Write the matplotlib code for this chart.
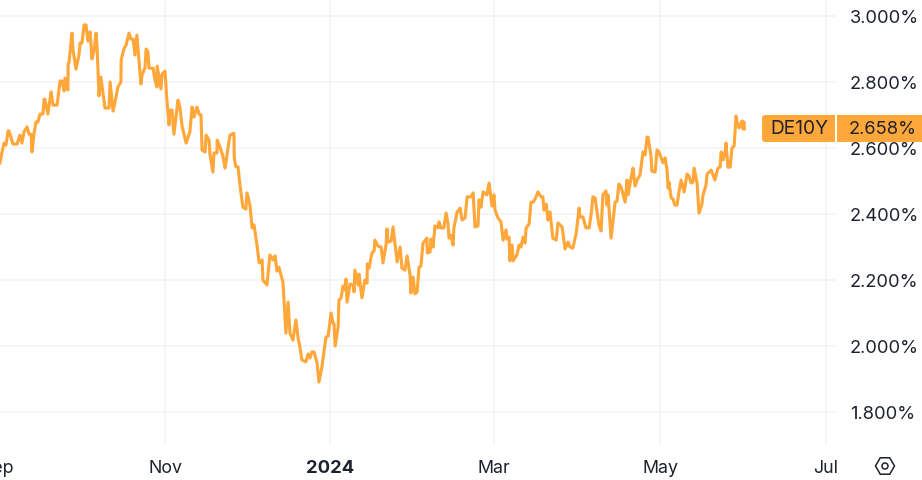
import matplotlib
matplotlib.use("Agg")
import matplotlib.pyplot as plt
from matplotlib.patches import FancyBboxPatch, Rectangle, RegularPolygon, Circle
from matplotlib.transforms import Affine2D

plt.rcParams['font.family'] = ['Inter', 'DejaVu Sans']

symbol = "DE10Y"
last_label = "2.658%"
# days since 1 Sep 2023
days = [0.0,0.7,1.5,2.2,3.0,3.3,4.8,6.3,7.4,8.1,8.9,10.0,10.7,11.5,11.8,12.6,13.3,14.0,14.8,15.9,16.3,16.6,17.7,18.9,19.6,21.1,22.2,22.9,23.7,24.0,
25.1,25.2,25.5,26.6,27.0,28.1,29.2,29.6,30.3,31.1,31.8,32.5,33.3,34.0,34.8,35.5,35.9,36.6,37.3,38.8,40.3,40.7,41.8,42.9,43.6,44.7,44.8,45.8,46.6,47.7,
48.4,49.2,49.9,50.6,52.1,52.5,53.6,54.0,54.7,55.1,56.6,57.3,58.0,58.1,59.5,59.9,61.0,61.7,62.5,62.8,63.6,64.3,65.8,66.5,67.3,68.8,70.2,71.0,71.7,72.8,
73.6,74.3,74.7,75.8,76.2,77.3,77.6,78.7,79.1,80.2,80.3,81.3,82.4,83.2,85.0,86.5,86.6,87.2,88.0,88.7,89.8,90.9,91.3,92.4,93.2,93.9,95.0,95.8,96.9,97.2,
98.7,99.8,100.9,101.7,102.4,103.1,104.6,105.7,106.5,107.2,108.3,109.4,110.2,110.9,111.6,113.1,113.9,114.6,115.3,116.1,117.2,117.9,119.0,120.5,121.3,122.4,123.1,123.5,123.9,125.0,
125.3,126.1,126.8,127.5,127.9,128.3,129.4,130.5,130.9,131.2,132.4,132.7,133.8,134.9,135.7,135.8,136.4,137.5,138.3,138.6,139.7,140.9,141.6,142.7,143.1,143.4,144.6,145.3,146.8,147.9,
148.6,149.7,150.5,151.6,151.9,152.7,153.4,154.2,154.9,155.6,156.4,157.8,158.0,159.0,159.3,160.1,160.8,161.9,162.3,163.0,164.1,164.9,165.6,166.0,166.7,167.5,167.8,169.0,170.1,170.8,
171.9,172.7,174.1,174.9,175.6,176.7,177.1,177.8,178.6,180.0,180.8,181.9,182.6,183.0,184.1,185.2,186.0,187.1,187.4,188.2,188.5,189.3,189.7,191.1,191.9,192.6,193.4,194.1,194.5,195.6,
196.3,197.1,197.8,198.9,200.0,200.7,201.1,201.9,202.6,203.3,204.4,205.6,206.3,207.8,208.9,210.0,210.7,211.8,213.0,214.1,214.4,215.5,216.6,217.8,218.5,219.2,220.0,221.4,222.2,222.9,
224.0,224.4,224.8,225.9,227.4,228.1,228.8,229.6,231.1,231.8,232.2,233.3,234.0,234.8,235.5,236.6,237.7,238.5,239.2,239.6,240.7,241.0,242.2,242.9,243.6,245.1,245.9,246.6,247.0,247.3,
248.1,248.8,249.5,250.3,251.0,251.8,252.9,254.0,254.7,255.5,256.2,256.6,257.7,258.4,259.5,259.9,261.0,261.4,262.9,264.3,265.4,266.2,266.6,267.3,268.0,268.4,269.1,269.9,270.6,271.4,
272.1,272.5,273.2,274.3,274.7,275.0,275.2]
yields = [2.555,2.585,2.615,2.609,2.652,2.652,2.612,2.612,2.639,2.615,2.649,2.664,2.642,2.642,2.588,2.645,2.679,2.679,2.703,2.703,2.748,2.748,2.703,2.770,2.730,2.730,2.803,2.803,2.773,2.812,
2.776,2.855,2.858,2.948,2.897,2.839,2.882,2.918,2.918,2.973,2.973,2.924,2.952,2.870,2.897,2.948,2.903,2.758,2.815,2.721,2.721,2.800,2.712,2.755,2.785,2.800,2.867,2.900,2.912,2.948,
2.930,2.930,2.882,2.942,2.794,2.821,2.842,2.900,2.891,2.842,2.842,2.806,2.785,2.848,2.779,2.824,2.833,2.745,2.670,2.715,2.715,2.642,2.745,2.724,2.667,2.615,2.649,2.724,2.694,2.724,
2.703,2.700,2.594,2.588,2.639,2.624,2.582,2.527,2.585,2.585,2.624,2.603,2.576,2.539,2.639,2.645,2.570,2.543,2.543,2.488,2.421,2.415,2.464,2.427,2.358,2.367,2.306,2.252,2.261,2.200,
2.185,2.276,2.261,2.273,2.227,2.239,2.194,2.039,2.133,2.039,2.018,2.079,2.024,1.997,1.958,1.952,1.976,1.964,1.982,1.982,1.949,1.891,1.936,2.027,2.030,2.100,2.070,2.067,2.000,2.058,
2.139,2.146,2.182,2.170,2.203,2.133,2.188,2.185,2.164,2.230,2.185,2.218,2.146,2.200,2.191,2.249,2.236,2.282,2.288,2.321,2.303,2.300,2.252,2.306,2.355,2.315,2.318,2.361,2.255,2.300,
2.236,2.230,2.273,2.215,2.161,2.209,2.158,2.164,2.239,2.242,2.312,2.327,2.282,2.285,2.324,2.300,2.364,2.358,2.376,2.358,2.358,2.403,2.373,2.327,2.336,2.306,2.358,2.406,2.418,2.382,
2.388,2.452,2.452,2.464,2.361,2.364,2.443,2.421,2.467,2.458,2.494,2.424,2.458,2.412,2.388,2.376,2.321,2.352,2.324,2.330,2.258,2.306,2.258,2.276,2.306,2.300,2.330,2.312,2.358,2.370,
2.436,2.436,2.445,2.467,2.452,2.452,2.412,2.430,2.382,2.406,2.327,2.321,2.373,2.361,2.294,2.315,2.300,2.297,2.342,2.418,2.391,2.391,2.358,2.358,2.397,2.452,2.449,2.367,2.349,2.458,
2.470,2.427,2.458,2.327,2.436,2.439,2.491,2.482,2.436,2.503,2.458,2.509,2.539,2.485,2.503,2.518,2.588,2.579,2.633,2.633,2.573,2.530,2.527,2.594,2.588,2.555,2.570,2.533,2.479,2.497,
2.449,2.445,2.427,2.427,2.467,2.503,2.467,2.521,2.515,2.494,2.497,2.539,2.494,2.403,2.430,2.458,2.488,2.521,2.533,2.503,2.539,2.542,2.588,2.564,2.585,2.615,2.542,2.542,2.600,2.606,
2.697,2.679,2.661,2.682,2.658,2.679,2.658]
x_ticks = [-0.8, 61.0, 122.0, 182.6, 244.0, 305.3]
x_labels = ["Sep", "Nov", "2024", "Mar", "May", "Jul"]
y_ticks = [1.8, 2.0, 2.2, 2.4, 2.6, 2.8, 3.0]
y_labels = ["1.800%", "2.000%", "2.200%", "2.400%", "2.600%", "2.800%", "3.000%"]

W, H = 922, 480
LINE = "#FFA73A"
TEXT = "#1E222D"
GRID = "#F2F2F3"

fig = plt.figure(figsize=(W/100, H/100), dpi=100)
left_px, right_px, bottom_px = -27, 837, 444
ax = fig.add_axes([left_px/W, (H-bottom_px)/H, (right_px-left_px)/W, bottom_px/H])
ax.set_xlim(left_px/2.705, right_px/2.705)
ax.set_ylim(3.0485-444*0.00303, 3.0485)
for s in ax.spines.values():
    s.set_visible(False)
ax.grid(True, color=GRID, lw=1.1)
ax.set_axisbelow(True)
ax.plot(days, yields, color=LINE, lw=2.25, solid_joinstyle='round', zorder=3)

ax.set_xticks(x_ticks)
ax.set_xticklabels(x_labels, fontsize=12.8, color=TEXT)
ax.get_xticklabels()[2].set_fontweight('bold')
ax.get_xticklabels()[2].set_fontsize(13.3)
ax.set_yticks(y_ticks)
ax.set_yticklabels(y_labels, fontsize=13.2, color=TEXT)
ax.yaxis.tick_right()
ax.tick_params(axis='both', length=0)
ax.tick_params(axis='x', pad=11.6)
ax.tick_params(axis='y', pad=9.2)

px = Affine2D().scale(1, -1).translate(0, H)
fig.add_artist(FancyBboxPatch((765, 118), 66, 21, boxstyle="round,pad=3,rounding_size=3",
                              fc=LINE, ec='none', transform=px, zorder=5))
fig.add_artist(Rectangle((825, 115), 10, 27, fc=LINE, ec='none', transform=px, zorder=5))
fig.add_artist(Rectangle((837, 115), 85, 27, fc=LINE, ec='none', transform=px, zorder=5))
fig.text(799/W, 1-129/H, symbol, ha='center', va='center', fontsize=13.8, color=TEXT, zorder=6)
fig.text(917/W, 1-129/H, last_label, ha='right', va='center', fontsize=13.2, color=TEXT, zorder=6)

# settings icon
fig.add_artist(RegularPolygon((885, 466), 6, radius=9.5, orientation=0.5236, fc='none', ec=TEXT, lw=1.1, transform=px))
fig.add_artist(Circle((885, 466), 3, fc='none', ec=TEXT, lw=1.1, transform=px))

fig.savefig("out.png", dpi=100)
